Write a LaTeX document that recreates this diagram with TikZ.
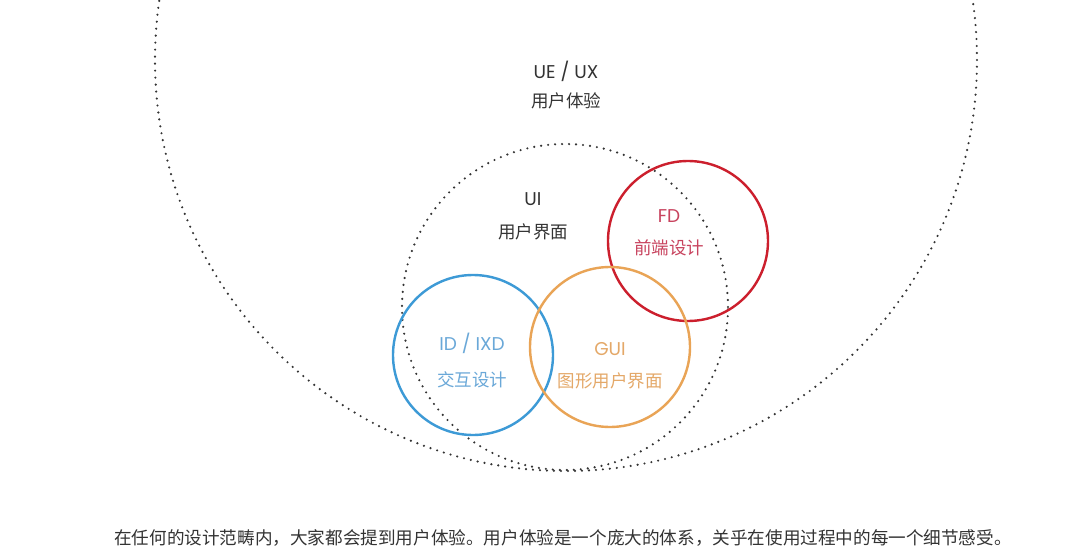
\documentclass[tikz,border=0pt]{standalone}
\usepackage{fontspec}
\setmainfont{Noto Sans CJK SC}
\newfontfamily\latinf{Poppins}
\definecolor{txt}{HTML}{333333}
\definecolor{fdred}{HTML}{CC1F2D}
\definecolor{fdtxt}{HTML}{C8435E}
\definecolor{idblue}{HTML}{3D9AD6}
\definecolor{idtxt}{HTML}{6AA8D8}
\definecolor{guiorange}{HTML}{E9A456}
\definecolor{guitxt}{HTML}{E4A868}
\begin{document}
\begin{tikzpicture}[x=1pt,y=-1pt,
  dotline/.style={draw=black!80, line width=2.4pt, line cap=round, dash pattern=on 0pt off 7pt},
  ring/.style={circle, draw=#1, line width=2.4pt, inner sep=0pt, minimum size=160pt},
  lbl/.style={font=\fontsize{17.5}{20}\selectfont, text=#1, inner sep=0pt},
  lat/.style={font=\latinf\fontsize{18.5}{20}\selectfont, text=#1, inner sep=0pt}
]
\useasboundingbox (0,0) rectangle (1080,559);
\fill[white] (0,0) rectangle (1080,559);
\begin{scope}
\clip (0,0) rectangle (1080,559);
\node[circle, dotline, inner sep=0pt, minimum size=822pt] (ux) at (566,60) {};
\node[circle, dotline, inner sep=0pt, minimum size=326pt] (ui) at (565,307) {};
\end{scope}
\node[ring=fdred] (fd) at (688,241) {};
\node[ring=idblue] (id) at (473,355) {};
\node[ring=guiorange] (gui) at (610,347) {};

\node[lat=txt] (uxen) at (566,71) {UE / UX};
\node[lbl=txt] (uxzh) at (566,101) {用户体验};
\node[lat=txt] (uien) at (533,199) {UI};
\node[lbl=txt] (uizh) at (533,232) {用户界面};
\node[lat=fdtxt] (fden) at (669,216) {FD};
\node[lbl=fdtxt] (fdzh) at (669,248) {前端设计};
\node[lat=idtxt] (iden) at (472,343) {ID / IXD};
\node[lbl=idtxt] (idzh) at (472,380) {交互设计};
\node[lat=guitxt] (guien) at (610,349) {GUI};
\node[lbl=guitxt] (guizh) at (610,381) {图形用户界面};
\node[font=\fontsize{17.6}{20}\selectfont, text=txt, inner sep=0pt] (cap) at (563,538) {在任何的设计范畴内，大家都会提到用户体验。用户体验是一个庞大的体系，关乎在使用过程中的每一个细节感受。};
\end{tikzpicture}
\end{document}
